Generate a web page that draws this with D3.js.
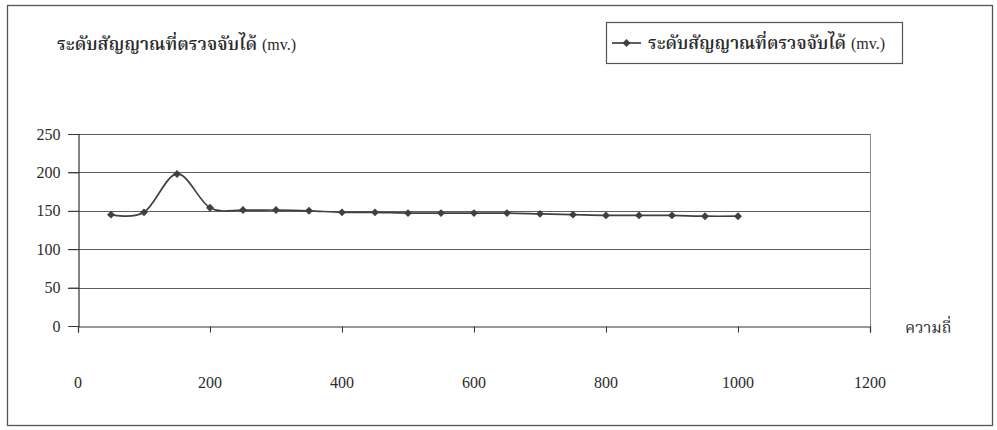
<!DOCTYPE html>
<html>
<head>
<meta charset="utf-8">
<script src="https://cdn.jsdelivr.net/npm/d3@7/dist/d3.min.js"></script>
<style>
  html, body { margin: 0; padding: 0; background: #ffffff; }
  svg { display: block; }
  .num { font-family: "Liberation Serif", "DejaVu Serif", serif; fill: #2b2b2b; }
  .thai { font-family: "Noto Serif Thai", "Noto Sans Thai", "Liberation Serif", "DejaVu Sans", serif; fill: #2b2b2b; font-weight: 600; }
  .thai.plain { font-weight: 400; }
</style>
</head>
<body>
<svg id="chart" width="997" height="430"></svg>
<script>
// Frequency (x) and detected signal level in mV (y)
const frequencies = [50, 100, 150, 200, 250, 300, 350, 400, 450, 500,
                     550, 600, 650, 700, 750, 800, 850, 900, 950, 1000];
const signalLevels = [145, 148, 198, 154, 151, 151, 150, 148, 148, 147,
                      147, 147, 147, 146, 145, 144, 144, 144, 143, 143];
const xTicks = [0, 200, 400, 600, 800, 1000, 1200];
const yTicks = [0, 50, 100, 150, 200, 250];
const seriesName = "ระดับสัญญาณที่ตรวจจับได้ (mv.)";
const yTitle = "ระดับสัญญาณที่ตรวจจับได้ (mv.)";
const xTitle = "ความถี่";

const svg = d3.select("#chart");
const ink = "#333333";
const gridInk = "#5e5e5e";
const seriesInk = "#404040";

const plot = { left: 78, right: 870, top: 134, bottom: 326 };

const x = d3.scaleLinear().domain([0, 1200]).range([plot.left, plot.right]);
const y = d3.scaleLinear().domain([0, 250]).range([plot.bottom, plot.top]);

// Thai words in a heavier face, the unit in the serif used for numbers
function mixedLabel(parent, str, x0, yBase, thaiWidth) {
  const m = str.match(/^(.*?)\s*(\(.*\))$/);
  const thaiPart = m ? m[1] : str;
  const unitPart = m ? m[2] : "";
  parent.append("text").attr("class", "thai")
    .attr("x", x0).attr("y", yBase).attr("font-size", 17)
    .attr("textLength", thaiWidth).attr("lengthAdjust", "spacingAndGlyphs")
    .text(thaiPart);
  if (unitPart) {
    parent.append("text").attr("class", "num")
      .attr("x", x0 + thaiWidth + 5).attr("y", yBase).attr("font-size", 16)
      .text(unitPart);
  }
}

// Outer chart frame
svg.append("rect")
  .attr("x", 7.5).attr("y", 5.5).attr("width", 985).attr("height", 420)
  .attr("fill", "none").attr("stroke", "#555").attr("stroke-width", 1.3);

// Horizontal gridlines, each extended left as a tick mark
svg.append("g").selectAll("line").data(yTicks.filter(d => d > 0)).join("line")
  .attr("x1", plot.left - 10).attr("x2", plot.right)
  .attr("y1", d => Math.round(y(d)) + 0.5).attr("y2", d => Math.round(y(d)) + 0.5)
  .attr("stroke", gridInk).attr("stroke-width", 1);

// Right edge of plot area
svg.append("line")
  .attr("x1", plot.right + 0.5).attr("x2", plot.right + 0.5)
  .attr("y1", plot.top).attr("y2", plot.bottom)
  .attr("stroke", "#8a8a8a").attr("stroke-width", 1);

// Y axis
const yAxis = d3.axisLeft(y).tickValues(yTicks).tickSize(10).tickFormat(d3.format("d")).tickPadding(8);
const gy = svg.append("g").attr("transform", `translate(${plot.left + 0.5},0)`).call(yAxis);
gy.select(".domain").attr("stroke", ink).attr("stroke-width", 1.2);
gy.selectAll(".tick line").attr("stroke", ink);
gy.selectAll(".tick text").attr("class", "num").attr("font-size", 16).attr("fill", "#2b2b2b");

// X axis line with short ticks, labels placed well below
const xAxis = d3.axisBottom(x).tickValues(xTicks).tickSize(6).tickFormat("");
const gx = svg.append("g").attr("transform", `translate(0,${Math.round(plot.bottom) + 0.5})`).call(xAxis);
gx.select(".domain").attr("stroke", ink).attr("stroke-width", 1.2);
gx.selectAll(".tick line").attr("stroke", ink);

svg.append("g").selectAll("text").data(xTicks).join("text")
  .attr("class", "num")
  .attr("x", d => x(d)).attr("y", 388)
  .attr("text-anchor", "middle").attr("font-size", 16)
  .text(d => d);

// Axis titles
mixedLabel(svg, yTitle, 57, 50, 200);
svg.append("text").attr("class", "thai plain")
  .attr("x", 905).attr("y", 333).attr("font-size", 16)
  .text(xTitle);

// Smoothed series line
const line = d3.line()
  .x((d, i) => x(frequencies[i]))
  .y(d => y(d))
  .curve(d3.curveCardinal.tension(0));
svg.append("path")
  .datum(signalLevels)
  .attr("d", line)
  .attr("fill", "none").attr("stroke", seriesInk).attr("stroke-width", 1.7);

// Diamond markers
const diamond = d3.symbol().type(d3.symbolDiamond2).size(40);
svg.append("g").selectAll("path").data(signalLevels).join("path")
  .attr("transform", (d, i) => `translate(${x(frequencies[i])},${y(d)})`)
  .attr("d", diamond)
  .attr("fill", seriesInk);

// Legend
const legend = svg.append("g");
legend.append("rect")
  .attr("x", 606.5).attr("y", 22.5).attr("width", 296).attr("height", 41)
  .attr("fill", "#fff").attr("stroke", "#555").attr("stroke-width", 1.2);
legend.append("line")
  .attr("x1", 612).attr("x2", 641).attr("y1", 43).attr("y2", 43)
  .attr("stroke", seriesInk).attr("stroke-width", 1.7);
legend.append("path")
  .attr("transform", "translate(626.5,43)")
  .attr("d", diamond).attr("fill", seriesInk);
mixedLabel(legend, seriesName, 648, 49, 198);
</script>
</body>
</html>
